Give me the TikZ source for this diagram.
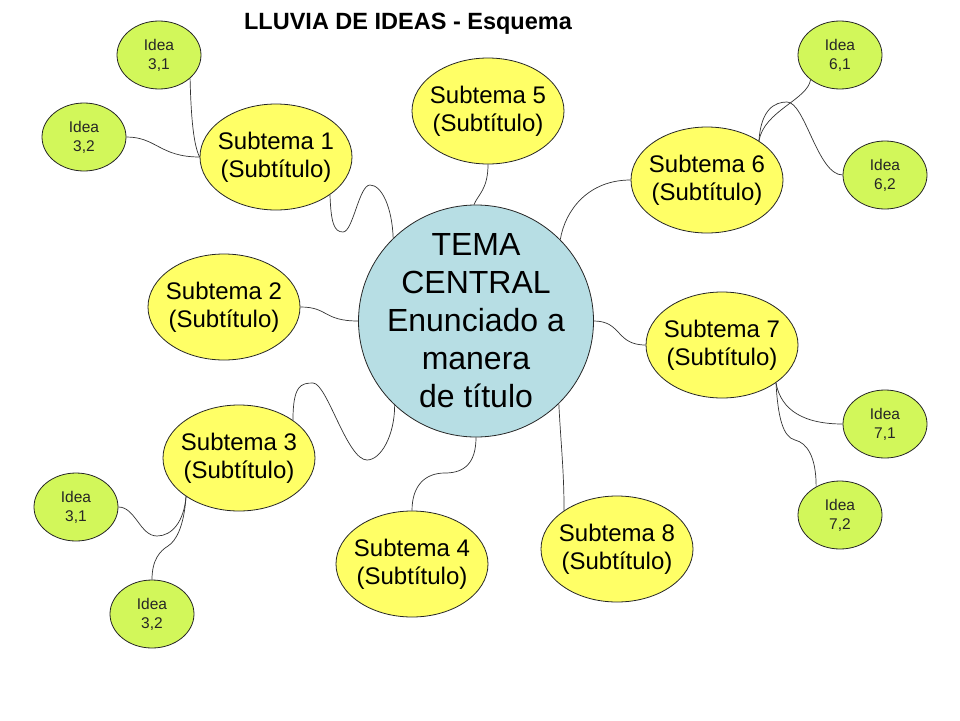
\documentclass[tikz,border=0pt]{standalone}
\usepackage{fontspec}
\setmainfont{Liberation Sans}
\usetikzlibrary{shapes.geometric}
\definecolor{subyellow}{RGB}{255,255,102}
\definecolor{idealime}{RGB}{210,247,90}
\definecolor{centralblue}{RGB}{183,222,228}
\begin{document}
\begin{tikzpicture}[x=1pt,y=-1pt,
  base/.style={ellipse,draw=black!85,line width=0.8pt,inner sep=-10pt,align=center},
  central/.style={base,fill=centralblue,minimum width=235pt,minimum height=232pt,font=\fontsize{32}{38}\selectfont},
  subtema/.style={base,fill=subyellow,minimum width=152pt,minimum height=106pt,font=\fontsize{24}{28}\selectfont},
  idea/.style={base,fill=idealime,minimum width=84pt,minimum height=68pt,text=black!85,font=\fontsize{15.5}{19}\selectfont},
  link/.style={draw=black!80,line width=0.7pt}]
\useasboundingbox (0,0) rectangle (960,720);
\fill[white] (0,0) rectangle (960,720);

\node[font=\bfseries\fontsize{23.5}{28}\selectfont] (title) at (408,24) {LLUVIA DE IDEAS - Esquema};

\node[central] (c) at (476,321) {TEMA\\CENTRAL\\Enunciado a\\manera\\de título};

\node[subtema] (s1) at (276,157) {Subtema 1\\(Subtítulo)};
\node[subtema] (s2) at (224,307) {Subtema 2\\(Subtítulo)};
\node[subtema] (s3) at (239,458) {Subtema 3\\(Subtítulo)};
\node[subtema] (s4) at (412,564) {Subtema 4\\(Subtítulo)};
\node[subtema] (s5) at (488,111) {Subtema 5\\(Subtítulo)};
\node[subtema] (s6) at (707,180) {Subtema 6\\(Subtítulo)};
\node[subtema] (s7) at (722,345) {Subtema 7\\(Subtítulo)};
\node[subtema] (s8) at (617,549) {Subtema 8\\(Subtítulo)};

\node[idea] (i1a) at (159,55) {Idea\\3,1};
\node[idea] (i1b) at (84,137) {Idea\\3,2};
\node[idea] (i3a) at (76,507) {Idea\\3,1};
\node[idea] (i3b) at (152,614) {Idea\\3,2};
\node[idea] (i6a) at (840,55) {Idea\\6,1};
\node[idea] (i6b) at (885,175) {Idea\\6,2};
\node[idea] (i7a) at (885,424) {Idea\\7,1};
\node[idea] (i7b) at (840,515) {Idea\\7,2};

% Subtema 1
\draw[link] (s1.-35) .. controls +(1,28) and +(-9,0) .. (343,232)
  .. controls +(10,0) and +(-11,0) .. (370,185)
  .. controls +(12,0) and +(-1,-30) .. (c.135);
\draw[link] (i1a.-37) .. controls +(1,40) and +(-6,-12) .. (s1.west);
\draw[link] (i1b.east) .. controls +(30,0) and +(-40,0) .. (s1.west);
% Subtema 5
\draw[link] (s5.south) .. controls +(0,25) and +(4,-10) .. (c.91);
% Subtema 6
\draw[link] (s6.west) .. controls +(-42,0) and +(5,-30) .. (c.44);
\draw[link] (s6.37) .. controls +(5,-30) and +(-3,20) .. (i6a.-140);
\draw[link] (s6.37) .. controls +(2,-32) and +(-12,0) .. (787,102)
  .. controls +(18,0) and +(-25,0) .. (i6b.west);
% Subtema 2
\draw[link] (s2.east) .. controls +(28,0) and +(-35,0) .. (c.west);
% Subtema 3
\draw[link] (s3.35) .. controls +(0,-35) and +(-12,0) .. (313,383)
  .. controls +(14,0) and +(-20,0) .. (367,460)
  .. controls +(14,0) and +(0,30) .. (c.-134);
\draw[link] (s3.-144) .. controls +(-2,25) and +(15,0) .. (157,536)
  .. controls +(-17,0) and +(17,0) .. (i3a.east);
\draw[link] (s3.-144) .. controls +(-2,30) and +(8,-5) .. (168,546)
  .. controls +(-8,5) and +(0,-20) .. (i3b.north);
% Subtema 4
\draw[link] (c.south) .. controls +(0,25) and +(20,0) .. (445,473)
  .. controls +(-20,0) and +(0,-25) .. (s4.north);
% Subtema 7
\draw[link] (c.east) .. controls +(28,0) and +(-30,0) .. (s7.west);
\draw[link] (s7.-35) .. controls +(5,28) and +(-38,0) .. (i7a.west);
\draw[link] (s7.-35) .. controls +(2,35) and +(-12,-3) .. (795,440)
  .. controls +(12,3) and +(0,-30) .. (i7b.130);
% Subtema 8
\draw[link] (c.-45) .. controls +(2,40) and +(0,-40) .. (s8.144);
\end{tikzpicture}
\end{document}
